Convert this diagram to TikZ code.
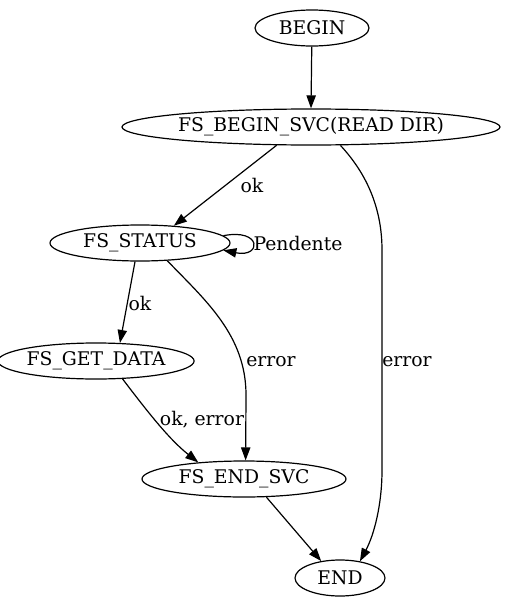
\documentclass[tikz,border=0pt]{standalone}
\usepackage{fontspec}
\setmainfont{DejaVu Serif}
\usetikzlibrary{arrows.meta,shapes.geometric}
\begin{document}
\begin{tikzpicture}[x=1pt,y=-1pt,
  st/.style={draw,line width=1.2pt,ellipse,inner sep=0pt,minimum height=36pt,font=\fontsize{18.8}{20}\selectfont},
  ed/.style={line width=1.2pt,-{Triangle[length=13pt,width=9.3pt]}},
  lb/.style={font=\fontsize{18.8}{20}\selectfont,inner sep=0pt}]
\useasboundingbox (0,0) rectangle (505,608);
\node[st,minimum width=114pt] (begin) at (312,28) {BEGIN};
\node[st,minimum width=378pt] (bsvc) at (311,127) {FS\_BEGIN\_SVC(READ DIR)};
\node[st,minimum width=180pt] (stat) at (140,243) {FS\_STATUS};
\node[st,minimum width=186pt] (gd) at (96,361) {FS\_GET\_DATA};
\node[st,minimum width=204pt] (es) at (244,479) {FS\_END\_SVC};
\node[st,minimum width=90pt] (end) at (340,578) {END};
\draw[ed] (begin) -- (bsvc.north);
\draw[ed] (bsvc.-152) -- (stat.27);
\node[lb] (l1) at (252,185) {ok};
\draw[ed] (bsvc.-32) .. controls (368,175) and (382,210) .. (382,250) -- (382,470) .. controls (382,505) and (374,535) .. (end.40);
\node[lb] (l2) at (407,362) {error};
\draw[ed] (stat.5) .. controls (262,228) and (262,258) .. (stat.-5);
\node[lb] (l3) at (298,243) {Pendente};
\draw[ed] (stat.-105) -- (gd.37);
\node[lb] (l4) at (140,303) {ok};
\draw[ed] (stat.-33) .. controls (205,300) and (246,335) .. (246,395) -- (es.85);
\node[lb] (l5) at (271,362) {error};
\draw[ed] (gd.-34) .. controls (150,415) and (170,440) .. (es.160);
\node[lb] (l6) at (202,420) {ok, error};
\draw[ed] (es.-39) -- (end.138);
\end{tikzpicture}
\end{document}
